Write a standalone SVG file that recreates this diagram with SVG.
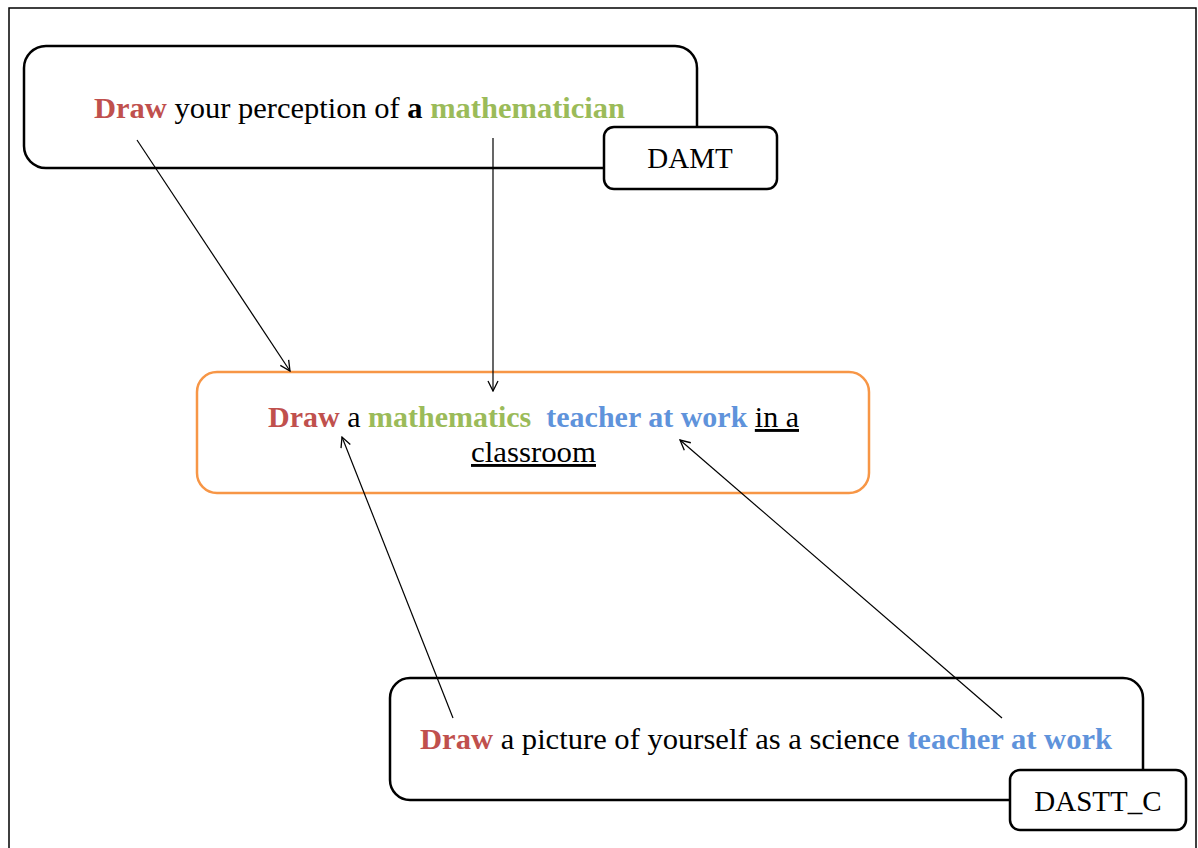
<svg xmlns="http://www.w3.org/2000/svg" width="1198" height="848" viewBox="0 0 1198 848">
  <style>
    .t { font-family: "Liberation Serif", "Times New Roman", serif; font-size: 29px; fill: #000; }
    .b { font-weight: bold; }
    .red { fill: #C0504D; font-weight: bold; }
    .green { fill: #9BBB59; font-weight: bold; }
    .blue { fill: #5F93DB; font-weight: bold; }
    .box { fill: #fff; stroke: #000; stroke-width: 2.5; }
    .obox { fill: #fff; stroke: #F79646; stroke-width: 2.5; }
    .conn { stroke: #000; stroke-width: 1.2; fill: none; marker-end: url(#arr); }
  </style>
  <defs>
    <marker id="arr" viewBox="0 0 12 12" refX="11" refY="6" markerWidth="12" markerHeight="12" markerUnits="userSpaceOnUse" orient="auto">
      <polyline points="1,1 11,6 1,11" fill="none" stroke="#000" stroke-width="1.3"/>
    </marker>
  </defs>
  <rect x="0" y="0" width="1198" height="848" fill="#fff"/>
  <rect x="9" y="8" width="1187" height="845" fill="none" stroke="#000" stroke-width="1.5"/>

  <g id="damt-node">
    <rect class="box" x="24" y="46" width="673" height="122" rx="22"/>
    <text class="t" x="94" y="118" textLength="531" lengthAdjust="spacingAndGlyphs"><tspan class="red">Draw</tspan> your perception of <tspan class="b">a</tspan> <tspan class="green">mathematician</tspan></text>
  </g>
  <g id="damt-label">
    <rect class="box" x="604" y="127" width="173" height="62" rx="10"/>
    <text class="t" x="690" y="168" text-anchor="middle">DAMT</text>
  </g>

  <g id="target-node">
    <rect class="obox" x="197" y="372" width="672" height="121" rx="20"/>
    <text class="t" x="268" y="427" textLength="531" lengthAdjust="spacingAndGlyphs"><tspan class="red">Draw</tspan> a <tspan class="green">mathematics</tspan>&#160; <tspan class="blue">teacher at work</tspan> <tspan text-decoration="underline">in a</tspan></text>
    <text class="t" x="471" y="462" textLength="125" lengthAdjust="spacingAndGlyphs" text-decoration="underline">classroom</text>
  </g>

  <g id="dastt-node">
    <rect class="box" x="390" y="678" width="753" height="122" rx="20"/>
    <text class="t" x="420" y="749" textLength="692" lengthAdjust="spacingAndGlyphs"><tspan class="red">Draw</tspan> a picture of yourself as a science <tspan class="blue">teacher at work</tspan></text>
  </g>
  <g id="dastt-label">
    <rect class="box" x="1010" y="770" width="176" height="60" rx="10"/>
    <text class="t" x="1098" y="811" text-anchor="middle">DASTT_C</text>
  </g>

  <g id="connectors">
    <line class="conn" x1="137" y1="140" x2="290" y2="371"/>
    <line class="conn" x1="493" y1="138" x2="493" y2="391"/>
    <line class="conn" x1="453" y1="718" x2="342" y2="437"/>
    <line class="conn" x1="1002" y1="718" x2="680" y2="440"/>
  </g>
</svg>
